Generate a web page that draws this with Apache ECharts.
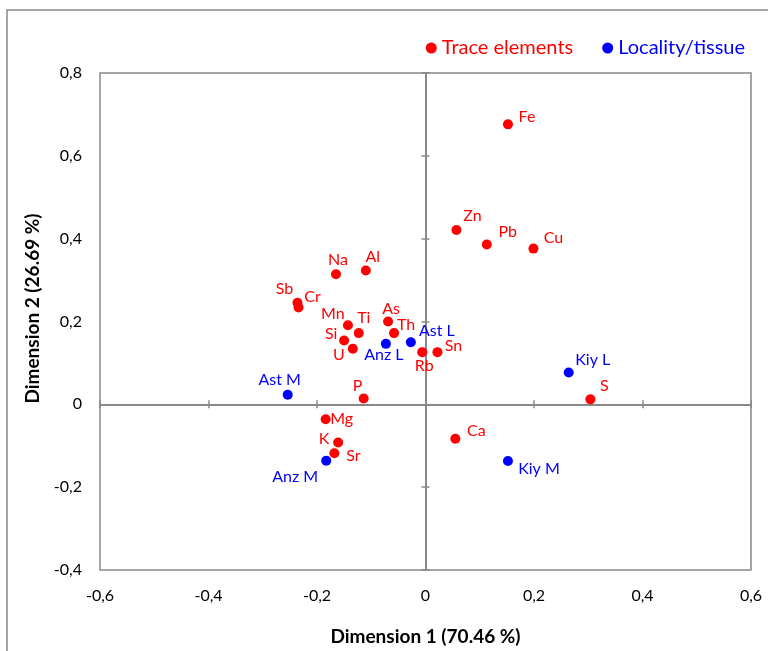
<!DOCTYPE html>
<html>
<head>
<meta charset="utf-8">
<script src="https://cdn.jsdelivr.net/npm/echarts@6/dist/echarts.min.js"></script>
<style>
html,body{margin:0;padding:0;background:#fff;}
#chart{width:768px;height:651px;}
</style>
</head>
<body>
<div id="chart"></div>
<script>
// ---- Data ----
const traceNames = ['Fe','Zn','Pb','Cu','Na','Al','Sb','Cr','Mn','Ti','As','Th','Si','U','Rb','Sn','P','Mg','K','Sr','Ca','S'];
const traceX = [0.152,0.057,0.113,0.199,-0.165,-0.110,-0.236,-0.234,-0.143,-0.123,-0.069,-0.058,-0.150,-0.134,-0.006,0.022,-0.114,-0.184,-0.161,-0.168,0.055,0.304];
const traceY = [0.676,0.421,0.386,0.376,0.314,0.323,0.245,0.234,0.191,0.172,0.200,0.172,0.154,0.134,0.126,0.126,0.014,-0.036,-0.092,-0.118,-0.083,0.012];

const siteNames = ['Anz L','Ast L','Ast M','Anz M','Kiy L','Kiy M'];
const siteX = [-0.073,-0.027,-0.254,-0.183,0.264,0.152];
const siteY = [0.146,0.150,0.023,-0.136,0.077,-0.137];

const xTicks = [-0.6,-0.4,-0.2,0,0.2,0.4,0.6];
const yTicks = [-0.4,-0.2,0,0.2,0.4,0.6,0.8];

const seriesNames = ['Trace elements','Locality/tissue'];
const xTitle = 'Dimension 1 (70.46 %)';
const yTitle = 'Dimension 2 (26.69 %)';

// ---- Label placement (pixel offsets from point centre) ----
const labelOffsets = {
  'Fe':[19,-8],'Zn':[16,-14],'Pb':[21,-13],'Cu':[20,-11],'Na':[2,-14],'Al':[7,-14],
  'Sb':[-13,-14],'Cr':[14,-11],'Mn':[-15,-11],'Ti':[5,-15],'As':[3,-13],'Th':[12,-8],
  'Si':[-13,-7],'U':[-14,6],'Rb':[2,14],'Sn':[16,-6],'P':[-6,-13],'Mg':[16,0],
  'K':[-14,-4],'Sr':[19,3],'Ca':[21,-8],'S':[14,-14],
  'Anz L':[-2,11],'Ast L':[26,-11],'Ast M':[-8,-15],'Anz M':[-31,16],'Kiy L':[24,-13],'Kiy M':[31,8]
};

const FONT = 'Lato, "Open Sans", sans-serif';
const GRAY = '#898989';
const RED = '#ff0000';
const BLUE = '#0000ff';

function fmt(v){ return Math.abs(v) < 1e-9 ? '0' : (Math.round(v*10)/10).toFixed(1).replace('.', ','); }

function mk(names, xs, ys){
  return names.map((n,i)=>({
    name: n,
    value: [xs[i], ys[i]],
    label: { offset: labelOffsets[n] || [0,-12] }
  }));
}

const xMin = xTicks[0], xMax = xTicks[xTicks.length-1], xInt = xTicks[1]-xTicks[0];
const yMin = yTicks[0], yMax = yTicks[yTicks.length-1], yInt = yTicks[1]-yTicks[0];

function baseX(extra){
  return Object.assign({type:'value', min:xMin, max:xMax, interval:xInt, splitLine:{show:false}}, extra);
}
function baseY(extra){
  return Object.assign({type:'value', min:yMin, max:yMax, interval:yInt, splitLine:{show:false}}, extra);
}

const chart = echarts.init(document.getElementById('chart'), null, {renderer:'canvas'});
chart.setOption({
  animation: false,
  backgroundColor: '#fff',
  textStyle: { fontFamily: FONT },
  graphic: [{
    type:'rect', shape:{x:7, y:10, width:800, height:700},
    style:{fill:'none', stroke:GRAY, lineWidth:1.5}, z:-1, silent:true
  }],
  grid: { left:100, top:73, right:17, bottom:79, show:true, borderColor:GRAY, borderWidth:1.5, backgroundColor:'transparent' },
  legend: {
    top: 33, right: 18,
    icon: 'circle', itemWidth: 11, itemHeight: 11, itemGap: 29,
    textStyle: { fontFamily: FONT, fontSize: 20 },
    data: [
      {name: seriesNames[0], textStyle:{color:RED}},
      {name: seriesNames[1], textStyle:{color:BLUE}}
    ]
  },
  xAxis: [
    baseX({position:'bottom', axisLine:{show:false, onZero:false}, axisTick:{show:false},
      axisLabel:{formatter:fmt, color:'#000', fontSize:16, margin:18, fontFamily:FONT},
      name:xTitle, nameLocation:'middle', nameGap:57,
      nameTextStyle:{fontWeight:'bold', fontSize:19, color:'#000', fontFamily:FONT}}),
    baseX({axisLine:{show:true, onZero:true, onZeroAxisIndex:0, lineStyle:{color:GRAY, width:2}},
      axisTick:{show:true, inside:true, length:4, lineStyle:{color:GRAY, width:1.5}}, axisLabel:{show:false}}),
    baseX({axisLine:{show:false, onZero:true, onZeroAxisIndex:0},
      axisTick:{show:true, inside:false, length:4, lineStyle:{color:GRAY, width:1.5}}, axisLabel:{show:false}})
  ],
  yAxis: [
    baseY({position:'left', axisLine:{show:false, onZero:false}, axisTick:{show:false},
      axisLabel:{formatter:fmt, color:'#000', fontSize:16, margin:18, fontFamily:FONT},
      name:yTitle, nameLocation:'middle', nameGap:58, nameRotate:90,
      nameTextStyle:{fontWeight:'bold', fontSize:19, color:'#000', fontFamily:FONT, padding:[0,0,0,26]}}),
    baseY({axisLine:{show:true, onZero:true, onZeroAxisIndex:0, lineStyle:{color:GRAY, width:2}},
      axisTick:{show:true, inside:true, length:4, lineStyle:{color:GRAY, width:1.5}}, axisLabel:{show:false}}),
    baseY({axisLine:{show:false, onZero:true, onZeroAxisIndex:0},
      axisTick:{show:true, inside:false, length:4, lineStyle:{color:GRAY, width:1.5}}, axisLabel:{show:false}})
  ],
  series: [
    {
      name: seriesNames[0], type:'scatter', xAxisIndex:0, yAxisIndex:0,
      symbol:'circle', symbolSize:10, itemStyle:{color:RED, opacity:1},
      label:{show:true, formatter:'{b}', position:'inside', color:RED, fontSize:16, fontFamily:FONT, align:'center', verticalAlign:'middle'},
      data: mk(traceNames, traceX, traceY), z:5
    },
    {
      name: seriesNames[1], type:'scatter', xAxisIndex:0, yAxisIndex:0,
      symbol:'circle', symbolSize:10, itemStyle:{color:BLUE, opacity:1},
      label:{show:true, formatter:'{b}', position:'inside', color:BLUE, fontSize:16, fontFamily:FONT, align:'center', verticalAlign:'middle'},
      data: mk(siteNames, siteX, siteY), z:5
    }
  ]
});
</script>
</body>
</html>
